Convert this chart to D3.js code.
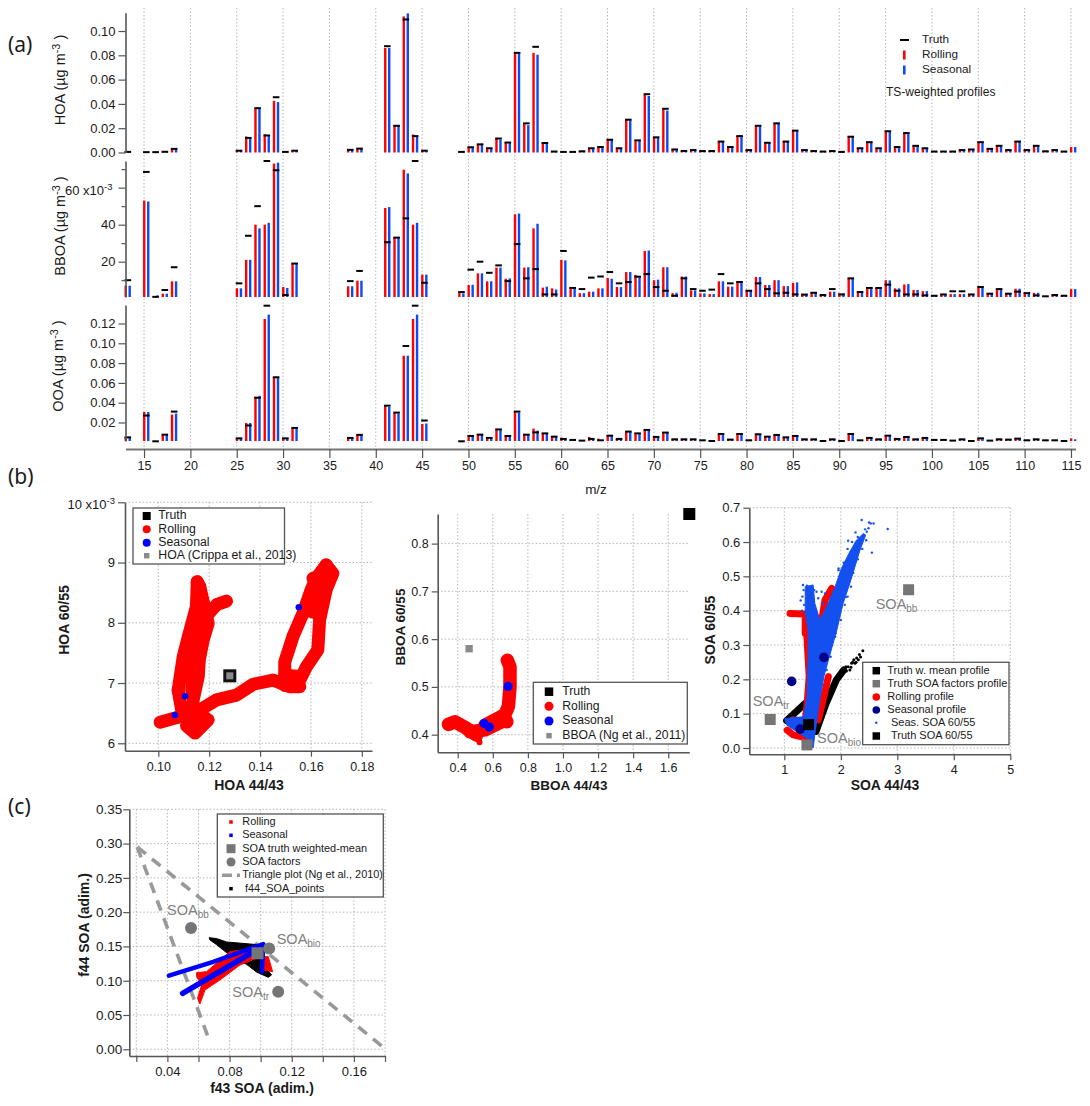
<!DOCTYPE html>
<html><head><meta charset="utf-8">
<script src="https://cdn.jsdelivr.net/npm/d3@7"></script>
<style>
html,body{margin:0;padding:0;background:#fff}
svg{display:block}
text{font-family:"Liberation Sans",Arial,sans-serif;fill:#1a1a1a}
</style></head><body><svg id="c" width="1090" height="1106"></svg>
<script>
// ---------- panel (a) data ----------
const mz=[13,15,16,17,18,25,26,27,28,29,30,31,37,38,41,42,43,44,45,49,50,51,52,53,54,55,56,57,58,59,60,61,62,63,64,65,66,67,68,69,70,71,72,73,74,75,76,77,78,79,80,81,82,83,84,85,86,87,88,89,90,91,92,93,94,95,96,97,98,99,100,101,102,103,104,105,106,107,108,109,110,111,112,113,114,115];
const hoaTruth=[.0005,.0003,.0003,.0006,.003,.0015,.012,.0365,.014,.0455,.0005,.0015,.0022,.0032,.0875,.022,.1095,.0135,.0015,.0005,.0043,.0067,.0035,.0115,.0082,.082,.024,.087,.0078,.0008,.0005,.0005,.001,.0035,.0045,.0105,.0035,.027,.010,.048,.0125,.036,.0025,.0013,.002,.0012,.0012,.009,.0045,.0135,.002,.022,.008,.024,.009,.018,.002,.0012,.0008,.0012,.0005,.013,.0035,.0085,.0035,.0175,.0045,.016,.0055,.0035,.0008,.0008,.0008,.002,.0025,.0085,.003,.0055,.002,.009,.002,.0055,.001,.002,.0008,null];
const hoaRolling=[.0005,.0003,.0003,.0006,.0035,.0015,.0132,.036,.015,.0425,.0005,.0015,.0025,.0032,.086,.0225,.112,.0148,.0015,.0005,.0045,.0065,.0038,.012,.0085,.082,.0235,.082,.0082,.0008,.0005,.0005,.001,.0035,.0045,.0105,.0035,.027,.0102,.0475,.0125,.0355,.0025,.0013,.002,.0012,.0012,.009,.0045,.0135,.002,.022,.008,.024,.009,.0178,.002,.0012,.0008,.0012,.0005,.013,.0035,.0085,.0035,.0175,.0045,.016,.0055,.0035,.0008,.0008,.0008,.002,.0025,.0085,.003,.0055,.002,.009,.002,.0055,.001,.002,.0008,.0045];
const hoaSeasonal=[.0003,.0003,.0003,.0005,.003,.0015,.0118,.0365,.0135,.0415,.0005,.0015,.0022,.0032,.086,.022,.1145,.013,.0015,.0005,.004,.0072,.0035,.0105,.0082,.0815,.0225,.0805,.0075,.0008,.0005,.0005,.001,.0032,.0042,.0105,.0032,.0265,.0098,.0465,.012,.0345,.0025,.0013,.002,.0012,.0012,.009,.0042,.013,.002,.0215,.0078,.0235,.009,.0175,.002,.0012,.0008,.0012,.0005,.0128,.0035,.0082,.0035,.017,.0045,.0158,.0055,.0033,.0008,.0008,.0008,.002,.0025,.0082,.003,.0052,.002,.0088,.002,.0055,.001,.002,.0008,.0045];

const bboaTruth=[10,68.5,1,4.7,17,8.3,34,50,74.4,69.4,2,19,9.5,15,30.5,33,43.4,74.4,8.6,3.6,15.7,20,14,18,9.5,29.5,11,16,2.3,2.3,25.8,5.8,5.2,11.4,12,14.4,8.3,9,11.9,13.3,6.3,4.3,1.6,11,5.2,4.3,4.9,13.3,8.3,9,4.3,8.3,5.2,2.9,3.2,2.3,2.2,3.2,2,5.2,2.3,11,3.6,5.8,5.8,7.6,4.3,2.3,2.3,1.8,1.6,2.3,4,4,2.3,6.3,2.7,5.2,2.7,3.8,3,1.8,1.3,2,1.6,null];
const bboaRolling=[7,53,1,2.7,9.4,5.6,21,40,40,73,6.3,19,6.7,9.7,49,33,69.7,40,13,3.4,7.4,13.7,9.4,16.8,10.8,45.6,16.8,38,6,5.6,21,6.3,3,3.8,5.6,11.2,6.3,14.4,12.8,25.8,10,17,3,12,4.5,2.9,2.5,9.4,6.5,9.5,4.7,11.7,7.4,10,6.8,8.5,2.7,3.6,2.3,3.8,2.9,10.8,3.2,6.3,5.9,10,5.6,7.7,4.7,4.1,1.8,2.5,2.5,2.5,2.5,6.1,3,5.4,2.9,5.4,3.4,3.2,1.4,2,1.6,5.2];
const bboaSeasonal=[7,52.5,1.8,2.7,9.4,5.6,21,38,41,73.5,5.8,19,6.7,9.7,49.5,33,67.7,41,13,2.9,7.5,13.7,9.4,16.8,11,46,17,40.5,6.5,5,20.7,6.1,3,3.8,5.6,10.8,6.3,14.4,12.3,26,10.3,17,3.2,12,4.5,2.9,2.5,9.4,6.5,9.5,4.7,11.7,7.4,10,6.8,8.8,2.7,3.6,2.3,3.8,2.9,10.8,3.2,6.3,5.9,9.9,5.6,7.9,4.7,4.1,1.8,2.5,2.5,2.5,2.5,6.1,3,5.4,2.9,5.4,3.4,3.2,1.4,2,1.6,5.2];

const ooaTruth=[.005,.027,.001,.0077,.031,.004,.017,.045,.138,.0657,.004,.0145,.0044,.0075,.037,.030,.0973,.138,.022,.001,.0064,.0077,.0044,.013,.0064,.031,.0077,.010,.009,.0057,.0034,.0024,.0017,.0034,.002,.0067,.0034,.0108,.009,.0125,.0054,.0098,.003,.003,.003,.002,.0013,.0084,.0027,.0084,.002,.0081,.0057,.0074,.005,.0064,.003,.003,.0013,.003,.0013,.0084,.002,.0044,.003,.0067,.0034,.0054,.003,.0044,.0024,.0024,.0017,.003,.0013,.004,.0017,.003,.0027,.0037,.002,.003,.002,.002,.0013,null];
const ooaRolling=[.005,.0306,.001,.0077,.028,.004,.0195,.046,.1246,.0657,.004,.0145,.0044,.0075,.0374,.030,.0875,.1246,.0185,.001,.007,.0084,.0044,.013,.0064,.0313,.0077,.0138,.009,.0057,.0047,.0024,.0017,.0054,.0037,.0067,.0034,.0108,.009,.0125,.0054,.0098,.003,.003,.003,.002,.0013,.0084,.0027,.0084,.002,.0081,.0057,.0074,.005,.0064,.003,.003,.0013,.003,.0013,.0084,.002,.0044,.003,.0067,.0034,.0054,.003,.0044,.0024,.0024,.0017,.003,.0013,.004,.0017,.003,.0027,.0037,.002,.003,.002,.002,.0013,.004];
const ooaSeasonal=[.005,.0306,.001,.0077,.029,.004,.0195,.047,.129,.0657,.004,.0145,.0044,.0075,.0357,.029,.0875,.129,.019,.001,.007,.0084,.0044,.013,.0064,.030,.0077,.0118,.009,.0057,.0034,.0024,.0017,.0034,.0024,.0067,.0034,.0108,.009,.0128,.0054,.0098,.003,.003,.003,.002,.0013,.0084,.0027,.0084,.002,.0081,.0057,.0074,.005,.0064,.003,.003,.0013,.003,.0013,.0084,.002,.0044,.003,.0067,.0034,.0054,.003,.0044,.0024,.0024,.0017,.003,.0013,.004,.0017,.003,.0027,.0037,.002,.003,.002,.002,.0013,.003];

const mzTicks=[15,20,25,30,35,40,45,50,55,60,65,70,75,80,85,90,95,100,105,110,115];

// ---------- panel (b) data ----------
const hoaTraces=[
 [[.1078,6.88],[.1098,7.44],[.1118,7.77],[.115,8.27],[.1153,8.68]],
 [[.1163,8.6],[.1196,7.99],[.1176,7.71],[.1161,7.38],[.1157,7.11],[.1137,6.72],[.1131,6.39]],
 [[.1131,6.88],[.1137,7.44],[.1163,7.99]],
 [[.1125,7.7],[.1175,7.9],[.1155,8.3]],
 [[.1153,8.68],[.1163,8.6]],
 [[.1007,6.35],[.1059,6.41],[.1118,6.48]],
 [[.1078,6.88],[.1092,6.55]],
 [[.1111,6.29],[.1144,6.17],[.1196,6.39],[.115,6.52]],
 [[.115,6.52],[.1229,6.72],[.1307,6.8],[.1373,6.98],[.1451,7.05],[.1516,6.94],[.1556,6.94]],
 [[.1497,7.13],[.1556,7.11]],
 [[.1497,6.96],[.1497,7.35],[.1529,7.77],[.1569,8.16],[.1601,8.55],[.1621,8.74],[.166,8.96]],
 [[.166,8.96],[.1686,8.82],[.166,8.55],[.1634,8.05],[.1627,7.55],[.1582,7.27],[.1549,6.99]],
 [[.1608,8.74],[.168,8.79],[.1627,8.32]],
 [[.1582,8.21],[.1627,8.16]],
 [[.1163,7.99],[.1229,8.3],[.1268,8.36]]
];
const hoaSeasonalX=[.1065,.1105,.1552], hoaSeasonalY=[6.47,6.78,8.26];
const hoaTruthPoint=[.1281,7.12];
const bboaTraces=[
 [[.347,.4216],[.385,.427],[.451,.413],[.508,.399]],
 [[.47,.406],[.556,.41],[.651,.427],[.689,.459],[.698,.5],[.698,.542],[.683,.556]],
 [[.556,.42],[.66,.44],[.68,.427]]
];
const bboaTip=[[.51,.405],[.524,.384]];
const bboaSeasonalX=[.55,.58,.687], bboaSeasonalY=[.4237,.416,.501];
const bboaTruthPoint=[1.72,.862], bboaRef=[.465,.58];
const soaBlueCloud=[[1.51,0],[1.45,.023],[1.04,.067],[1.01,.086],[1.34,.091],[1.40,.15],[1.42,.266],[1.42,.344],[1.37,.392],[1.37,.47],[1.51,.475],[1.54,.421],[1.63,.373],[1.75,.412],[1.90,.47],[2.01,.523],[2.16,.572],[2.28,.606],[2.40,.625],[2.44,.62],[2.34,.577],[2.25,.528],[2.16,.48],[2.04,.421],[1.93,.344],[1.78,.256],[1.70,.208],[1.62,.13],[1.55,.052]];
const soaBlueDots=[[2.37,.664],[2.50,.657],[2.58,.654],[2.53,.654],[2.83,.638],[2.26,.628],[2.55,.569],[2.46,.63],[2.41,.62],[2.35,.601],[2.13,.604],[2.31,.582],[2.22,.579],[2.28,.559],[1.96,.523],[2.07,.47],[2.12,.441],[1.91,.334],[1.96,.518],[2.49,.64],[2.43,.637],[2.39,.611],[2.16,.557],[2.10,.543],[2.01,.499],[1.40,.473],[1.45,.465],[1.57,.455],[1.66,.455],[1.72,.45],[1.34,.46],[1.32,.441],[1.60,.436],[1.69,.421],[1.35,.417],[2.07,.417],[2.00,.373],[1.90,.324],[1.82,.266],[1.75,.227],[2.01,.46],[2.05,.54],[2.12,.58],[2.2,.6],[2.30,.615],[2.45,.605],[2.38,.58],[2.30,.55],[2.22,.51],[2.18,.47],[2.09,.44],[1.98,.40],[1.31,.40],[1.29,.43],[1.33,.475],[1.48,.44],[1.53,.46]];
const soaRedTraces=[
 [[1.10,.392],[1.37,.39],[1.37,.334]],
 [[1.40,.324],[1.44,.208],[1.40,.12],[1.37,.082]],
 [[1.84,.465],[1.72,.431],[1.66,.368]],
 [[1.78,.208],[1.70,.15],[1.60,.082]],
 [[1.05,.052],[1.16,.038],[1.42,.028]],
 [[1.16,.082],[1.34,.077]]
];
const soaBlackTraces=[
 [[1.56,.048],[1.74,.13],[1.92,.198],[2.05,.227]],
 [[1.04,.08],[1.37,.13]],
 [[1.10,.082],[1.45,.077]]
];
const soaBlackDots=[[2.13,.237],[2.19,.247],[2.23,.257],[2.28,.262],[2.33,.272],[2.39,.283],[2.25,.247],[2.16,.227],[2.09,.237],[2.31,.257],[2.04,.222],[2.10,.224],[2.18,.235],[2.21,.25],[2.27,.25],[2.35,.265]];
const soaSeasonalProfile=[[1.13,.194],[1.70,.264],[1.28,.055]];
const soaTruthMean=[1.43,.068];
const soaFactors=[[3.20,.461],[.75,.083],[1.40,.009]];

// ---------- panel (c) data ----------
const triangleA=[[.0206,.295],[.0675,.01]];
const triangleB=[[.0206,.295],[.18,.001]];
const cFactors=[[.0552,.177],[.1055,.147],[.1113,.084]];
const cTruthMean=[.098,.14];
const cBlack=[[.0669,.1628],[.0717,.1614],[.0781,.1565],[.0974,.1527],[.1017,.1351],[.0995,.1302],[.107,.1084],[.1049,.105],[.0974,.1126],[.091,.1238],[.0802,.137],[.0717,.1525],[.0674,.1594]];
const cRedA=[[.0588,.1118],[.0652,.1132],[.0802,.1424],[.0952,.1472],[.0974,.1327],[.0867,.1229],[.0738,.1011],[.0642,.0865],[.0609,.0661],[.0594,.0743],[.062,.0938],[.0588,.1059]];
const cRedB=[[.1006,.1351],[.1049,.1351],[.1077,.1132],[.1017,.1156]];
const cBlueLines=[[[.041,.1074],[.0695,.1275],[.1017,.1535]],[[.0498,.0816],[.0717,.1108],[.0974,.1448]],[[.1008,.1132],[.1017,.1497]]];

// ---------- helpers ----------
const svg=d3.select('#c');
const AXC='#555';
const RED='#ff0000',BLUE='#0b4bf5',PURE='#0000ff',NAVY='#00008b',GREY='#757575';
function styleAxis(g,fs,w){
  g.selectAll('path.domain').attr('stroke',AXC).attr('stroke-width',w||1.6);
  g.selectAll('.tick line').attr('stroke',AXC).attr('stroke-width',1.2);
  g.selectAll('.tick text').attr('fill','#1a1a1a').style('font-size',fs+'px').style('font-family','"Liberation Sans",Arial,sans-serif');
}
function vgrid(g,x,vals,y0,y1){g.selectAll(null).data(vals).join('line').attr('x1',x).attr('x2',x).attr('y1',y0).attr('y2',y1).attr('stroke','#b5b5b5').attr('stroke-width',1).attr('stroke-dasharray','1.5,2');}
function hgrid(g,y,vals,x0,x1){g.selectAll(null).data(vals).join('line').attr('y1',y).attr('y2',y).attr('x1',x0).attr('x2',x1).attr('stroke','#b5b5b5').attr('stroke-width',1).attr('stroke-dasharray','1.5,2');}
function supLabel(g,x,y,base,sup,tail,opt){
  const t=g.append('text').attr('transform',`translate(${x},${y}) rotate(-90)`).attr('text-anchor','middle').style('font-size',opt+'px');
  t.append('tspan').text(base);
  t.append('tspan').attr('dy',-5).style('font-size',(opt*.75)+'px').text(sup);
  t.append('tspan').attr('dy',5).text(tail);
}
function subLabel(g,x,y,base,sub){
  const t=g.append('text').attr('x',x).attr('y',y).attr('dominant-baseline','middle').style('font-size','14.5px').style('fill','#808080');
  t.append('tspan').text(base);
  t.append('tspan').attr('dy',4).style('font-size','10px').style('fill','#808080').text(sub);
}
function bold(g,x,y,txt,rot,fs){
  g.append('text').attr('transform',`translate(${x},${y})`+(rot?' rotate(-90)':'')).attr('text-anchor','middle').attr('dominant-baseline','middle')
   .style('font-weight','bold').style('font-size',(fs||14)+'px').text(txt);
}
function xSquare(g,px,py,k){
  g.append('rect').attr('x',px-3.2*k).attr('y',py-3.2*k).attr('width',6.4*k).attr('height',6.4*k).attr('fill','#8a8a8a');
  g.append('path').attr('d',d3.symbol(d3.symbolX,46*k*k)()).attr('transform',`translate(${px},${py})`).attr('fill','#666');
}
function legend(g,x0,y0,x1,y1,items,fs){
  g.append('rect').attr('x',x0).attr('y',y0).attr('width',x1-x0).attr('height',y1-y0).attr('fill','#fff').attr('stroke','#555').attr('stroke-width',1.3);
  items.forEach(it=>{
    const mx=it.mx,my=it.y;
    if(it.k==='sq') g.append('rect').attr('x',mx-it.s/2).attr('y',my-it.s/2).attr('width',it.s).attr('height',it.s).attr('fill',it.c);
    if(it.k==='c') g.append('circle').attr('cx',mx).attr('cy',my).attr('r',it.s).attr('fill',it.c);
    if(it.k==='x') xSquare(g,mx,my,.85);
    if(it.k==='dash') g.append('line').attr('x1',mx-9).attr('x2',mx+9).attr('y1',my).attr('y2',my).attr('stroke','#999').attr('stroke-width',3.5).attr('stroke-dasharray','10,5');
    g.append('text').attr('x',it.tx).attr('y',my).attr('dominant-baseline','middle').style('font-size',fs+'px').text(it.t);
  });
}
const lineGen=(x,y)=>d3.line().x(d=>x(d[0])).y(d=>y(d[1]));

// ---------- panel (a) ----------
const xA=d3.scaleLinear().domain([13,115.5]).range([125.5,1075.6]);
const A=svg.append('g');
vgrid(A,d=>xA(d),mzTicks,8,449);
function barPanel(yDom,yRange,truth,roll,seas,ticks,fmt){
  const y=d3.scaleLinear().domain(yDom).range(yRange);
  const g=A.append('g');
  const base=yRange[0];
  const h=v=>Math.max(0,base-y(v));
  g.selectAll(null).data(mz).join('rect').attr('x',d=>xA(d)-1).attr('width',2.4).attr('y',(d,i)=>y(roll[i])).attr('height',(d,i)=>h(roll[i])).attr('fill',RED);
  g.selectAll(null).data(mz).join('rect').attr('x',d=>xA(d)+3).attr('width',2.4).attr('y',(d,i)=>y(seas[i])).attr('height',(d,i)=>h(seas[i])).attr('fill',BLUE);
  g.selectAll(null).data(mz.filter((d,i)=>truth[i]!=null)).join('line').attr('x1',d=>xA(d)-1).attr('x2',d=>xA(d)+5.6)
   .attr('y1',d=>y(truth[mz.indexOf(d)])).attr('y2',d=>y(truth[mz.indexOf(d)])).attr('stroke','#000').attr('stroke-width',2);
  const ax=A.append('g').attr('transform','translate(125.5,0)').call(d3.axisLeft(y).tickValues(ticks).tickFormat(fmt).tickSize(7).tickSizeOuter(0).tickPadding(3));
  styleAxis(ax,13);
  return ax;
}
barPanel([0,.115],[152.5,12.8],hoaTruth,hoaRolling,hoaSeasonal,[0,.02,.04,.06,.08,.10],d3.format('.2f'));
const bbAx=barPanel([.92,74.4],[297,161],bboaTruth,bboaRolling,bboaSeasonal,[10,20,30,40,50,60,70],d=>(d===20||d===40)?d:'');
bbAx.selectAll('.tick').filter(d=>d%20!==0).select('line').attr('x2',-4);
bbAx.selectAll('.tick text').filter(d=>d===60).attr('dy','0.55em').attr('x',-13).each(function(){
  const t=d3.select(this);t.text('60 x10');
  t.append('tspan').attr('dy',-5).style('font-size','9.5px').text('-3');
});
barPanel([.0013,.1387],[441,305],ooaTruth,ooaRolling,ooaSeasonal,[.02,.04,.06,.08,.10,.12],d3.format('.2f'));
const axX=A.append('g').attr('transform','translate(0,449)').call(d3.axisBottom(xA).tickValues(mzTicks).tickSize(9).tickSizeOuter(0).tickPadding(3));
styleAxis(axX,12.5,2);
axX.selectAll('path.domain').attr('stroke','#777');
A.append('text').attr('x',596).attr('y',490).attr('text-anchor','middle').attr('dominant-baseline','middle').style('font-size','13.5px').text('m/z');
supLabel(A,65,80,'HOA (µg m','-3',' )',14.5);
supLabel(A,65,226,'BBOA (µg m','-3',' )',14.5);
supLabel(A,63,366,'OOA (µg m','-3',' )',14.5);
// legend (a)
A.append('line').attr('x1',900).attr('x2',909).attr('y1',40).attr('y2',40).attr('stroke','#000').attr('stroke-width',2);
A.append('rect').attr('x',903).attr('y',50.5).attr('width',2.6).attr('height',9).attr('fill',RED);
A.append('rect').attr('x',903).attr('y',65.5).attr('width',2.6).attr('height',9).attr('fill',BLUE);
[['Truth',40],['Rolling',55],['Seasonal',70]].forEach(d=>A.append('text').attr('x',922).attr('y',d[1]).attr('dominant-baseline','middle').style('font-size','11.8px').text(d[0]));
A.append('text').attr('x',886).attr('y',93).attr('dominant-baseline','middle').style('font-size','12px').text('TS-weighted profiles');

[['(a)',8,46],['(b)',8,478],['(c)',8,808]].forEach(d=>svg.append('text').attr('x',d[1]).attr('y',d[2]).attr('dominant-baseline','middle').style('font-family','"Noto Sans",sans-serif').style('font-size','21px').text(d[0]));

// ---------- panel (b1) ----------
(function(){
  const x=d3.scaleLinear().domain([.0869,.184]).range([125,372]);
  const y=d3.scaleLinear().domain([5.877,10]).range([750.7,502.3]);
  const g=svg.append('g');
  const xt=[.10,.12,.14,.16,.18], yt=[6,7,8,9,10];
  vgrid(g,d=>x(d),xt,502,750.7); hgrid(g,d=>y(d),yt,125,372);
  hoaTraces.forEach(t=>g.append('path').attr('d',lineGen(x,y)(t)).attr('fill','none').attr('stroke',RED).attr('stroke-width',13).attr('stroke-linecap','round').attr('stroke-linejoin','round'));
  g.selectAll(null).data(hoaSeasonalX).join('circle').attr('cx',d=>x(d)).attr('cy',(d,i)=>y(hoaSeasonalY[i])).attr('r',3.2).attr('fill',PURE);
  const tp=[x(hoaTruthPoint[0]),y(hoaTruthPoint[1])];
  g.append('rect').attr('x',tp[0]-6.5).attr('y',tp[1]-6.5).attr('width',13).attr('height',13).attr('fill','#111');
  xSquare(g,tp[0],tp[1],1.1);
  const ay=g.append('g').attr('transform','translate(125,0)').call(d3.axisLeft(y).tickValues(yt).tickFormat(d=>d).tickSize(7).tickSizeOuter(0).tickPadding(3));
  styleAxis(ay,13);
  ay.selectAll('.tick text').filter(d=>d===10).attr('dy','0.45em').each(function(){const t=d3.select(this);t.text('10 x10');t.append('tspan').attr('dy',-5).style('font-size','9.5px').text('-3');});
  const ax=g.append('g').attr('transform','translate(0,750.7)').call(d3.axisBottom(x).tickValues(xt).tickFormat(d3.format('.2f')).tickSize(6).tickSizeOuter(0).tickPadding(5));
  styleAxis(ax,12.5);
  bold(g,249,786,'HOA 44/43');bold(g,65,620,'HOA 60/55',true);
  legend(g,133,508,284.5,564,[
   {k:'sq',c:'#000',s:8,mx:146.7,y:516,tx:158.3,t:'Truth'},
   {k:'c',c:RED,s:4,mx:146.7,y:529.3,tx:158.3,t:'Rolling'},
   {k:'c',c:PURE,s:4,mx:146.7,y:542.7,tx:158.3,t:'Seasonal'},
   {k:'x',mx:146.7,y:555.7,tx:158.3,t:'HOA (Crippa et al., 2013)'}],12.3);
})();

// ---------- panel (b2) ----------
(function(){
  const x=d3.scaleLinear().domain([.286,1.72]).range([437.7,689.3]);
  const y=d3.scaleLinear().domain([.3631,.862]).range([752.3,514]);
  const g=svg.append('g');
  const xt=[.4,.6,.8,1,1.2,1.4,1.6], yt=[.4,.5,.6,.7,.8];
  vgrid(g,d=>x(d),xt,514,752.3); hgrid(g,d=>y(d),yt,437.7,689.3);
  bboaTraces.forEach(t=>g.append('path').attr('d',lineGen(x,y)(t)).attr('fill','none').attr('stroke',RED).attr('stroke-width',13.5).attr('stroke-linecap','round').attr('stroke-linejoin','round'));
  g.append('path').attr('d',lineGen(x,y)(bboaTip)).attr('fill','none').attr('stroke',RED).attr('stroke-width',6).attr('stroke-linecap','round');
  xSquare(g,x(bboaRef[0]),y(bboaRef[1]),1.15);
  g.selectAll(null).data(bboaSeasonalX).join('circle').attr('cx',d=>x(d)).attr('cy',(d,i)=>y(bboaSeasonalY[i])).attr('r',4.6).attr('fill',PURE);
  g.append('rect').attr('x',x(bboaTruthPoint[0])-6).attr('y',y(bboaTruthPoint[1])-6).attr('width',12).attr('height',12).attr('fill','#000');
  const ay=g.append('g').attr('transform','translate(437.7,0)').call(d3.axisLeft(y).tickValues(yt).tickFormat(d3.format('.1f')).tickSize(6).tickSizeOuter(0).tickPadding(3));
  styleAxis(ay,12.5);
  const ax=g.append('g').attr('transform','translate(0,752.3)').call(d3.axisBottom(x).tickValues(xt).tickFormat(d3.format('.1f')).tickSize(6).tickSizeOuter(0).tickPadding(5));
  styleAxis(ax,12.5);
  bold(g,569,786,'BBOA 44/43',false,13.5);bold(g,401,627,'BBOA 60/55',true,13.5);
  legend(g,533.3,682.3,687.3,744,[
   {k:'sq',c:'#000',s:8.5,mx:549,y:691.7,tx:562.3,t:'Truth'},
   {k:'c',c:RED,s:4.5,mx:549,y:706.3,tx:562.3,t:'Rolling'},
   {k:'c',c:PURE,s:4.5,mx:549,y:721,tx:562.3,t:'Seasonal'},
   {k:'x',mx:549,y:735.7,tx:562.3,t:'BBOA (Ng et al., 2011)'}],12.2);
})();

// ---------- panel (b3) ----------
(function(){
  const x=d3.scaleLinear().domain([.38,5]).range([749.3,1010.3]);
  const y=d3.scaleLinear().domain([-.0184,.7]).range([754.3,507.7]);
  const g=svg.append('g');
  const xt=[1,2,3,4,5], yt=[0,.1,.2,.3,.4,.5,.6,.7];
  vgrid(g,d=>x(d),xt,507.7,754.3); hgrid(g,d=>y(d),yt,749.3,1010.3);
  const L=lineGen(x,y);
  soaBlackTraces.forEach(t=>g.append('path').attr('d',L(t)).attr('fill','none').attr('stroke','#000').attr('stroke-width',7).attr('stroke-linecap','round').attr('stroke-linejoin','round'));
  g.selectAll(null).data(soaBlackDots).join('circle').attr('cx',d=>x(d[0])).attr('cy',d=>y(d[1])).attr('r',1.5).attr('fill','#000');
  soaRedTraces.forEach(t=>g.append('path').attr('d',L(t)).attr('fill','none').attr('stroke',RED).attr('stroke-width',7).attr('stroke-linecap','round').attr('stroke-linejoin','round'));
  g.append('path').attr('d',L(soaBlueCloud)+'Z').attr('fill','#1450f0').attr('stroke','#1450f0').attr('stroke-width',1);
  g.selectAll(null).data(soaBlueDots).join('circle').attr('cx',d=>x(d[0])).attr('cy',d=>y(d[1])).attr('r',1.2).attr('fill','#1450f0');
  g.selectAll(null).data(soaSeasonalProfile).join('circle').attr('cx',d=>x(d[0])).attr('cy',d=>y(d[1])).attr('r',4.8).attr('fill',NAVY);
  g.selectAll(null).data(soaFactors).join('rect').attr('x',d=>x(d[0])-5.5).attr('y',d=>y(d[1])-5.5).attr('width',11).attr('height',11).attr('fill',GREY);
  g.append('rect').attr('x',x(soaTruthMean[0])-5.5).attr('y',y(soaTruthMean[1])-5.5).attr('width',11).attr('height',11).attr('fill','#000');
  const ay=g.append('g').attr('transform','translate(749.3,0)').call(d3.axisLeft(y).tickValues(yt).tickFormat(d3.format('.1f')).tickSize(6).tickSizeOuter(0).tickPadding(3));
  styleAxis(ay,13);
  const ax=g.append('g').attr('transform','translate(0,754.3)').call(d3.axisBottom(x).tickValues(xt).tickFormat(d=>d).tickSize(6).tickSizeOuter(0).tickPadding(5));
  styleAxis(ax,12.5);
  bold(g,885,786,'SOA 44/43');bold(g,711,630,'SOA 60/55',true);
  legend(g,862.7,662.3,1009,744.7,[
   {k:'sq',c:'#000',s:7.5,mx:876.3,y:670.7,tx:887.3,t:'Truth w. mean profile'},
   {k:'sq',c:GREY,s:7.5,mx:876.3,y:683.7,tx:887.3,t:'Truth SOA factors profile'},
   {k:'c',c:RED,s:3.8,mx:876.3,y:697,tx:887.3,t:'Rolling profile'},
   {k:'c',c:NAVY,s:3.8,mx:876.3,y:710,tx:887.3,t:'Seasonal profile'},
   {k:'c',c:'#1450f0',s:1.2,mx:876.3,y:722.7,tx:891,t:'Seas. SOA 60/55'},
   {k:'sq',c:'#000',s:7.5,mx:876.3,y:736,tx:891,t:'Truth SOA 60/55'}],11);
  subLabel(g,875.7,605,'SOA','bb');subLabel(g,752.7,702,'SOA','tr');subLabel(g,817,739,'SOA','bio');
})();

// ---------- panel (c) ----------
(function(){
  const x=d3.scaleLinear().domain([.0155,.18]).range([129.3,385]);
  const y=d3.scaleLinear().domain([-.0098,.35]).range([1056,809.3]);
  const g=svg.append('g');
  const xt=[.02,.04,.06,.08,.10,.12,.14,.16,.18], yt=[0,.05,.10,.15,.20,.25,.30,.35];
  vgrid(g,d=>x(d),xt,809.3,1056); hgrid(g,d=>y(d),yt,129.3,385);
  const L=lineGen(x,y);
  [triangleA,triangleB].forEach(t=>g.append('path').attr('d',L(t)).attr('fill','none').attr('stroke','#999').attr('stroke-width',3.6).attr('stroke-dasharray','11,8'));
  g.append('path').attr('d',L(cBlack)+'Z').attr('fill','#000').attr('stroke','#000');
  g.append('path').attr('d',L(cRedA)+'Z').attr('fill',RED).attr('stroke',RED);
  g.append('path').attr('d',L(cRedB)+'Z').attr('fill',RED).attr('stroke',RED);
  g.selectAll(null).data(cBlueLines).join('path').attr('d',L).attr('fill','none').attr('stroke',PURE).attr('stroke-linecap','round').attr('stroke-width',(d,i)=>i===1?5.5:4.5);
  g.selectAll(null).data(cFactors).join('circle').attr('cx',d=>x(d[0])).attr('cy',d=>y(d[1])).attr('r',6).attr('fill',GREY);
  g.append('rect').attr('x',x(cTruthMean[0])-6).attr('y',y(cTruthMean[1])-6).attr('width',12).attr('height',12).attr('fill',GREY);
  subLabel(g,167,910.7,'SOA','bb');subLabel(g,276.7,940,'SOA','bio');subLabel(g,232.3,993.3,'SOA','tr');
  const ay=g.append('g').attr('transform','translate(129.3,0)').call(d3.axisLeft(y).tickValues(yt).tickFormat(d3.format('.2f')).tickSize(6).tickSizeOuter(0).tickPadding(1));
  styleAxis(ay,13.5);
  const ax=g.append('g').attr('transform','translate(0,1056)').call(d3.axisBottom(x).tickValues(xt).tickFormat(d=>[.04,.08,.12,.16].includes(d)?d3.format('.2f')(d):'').tickSize(6).tickSizeOuter(0).tickPadding(5));
  styleAxis(ax,13);
  bold(g,262,1089,'f43 SOA (adim.)');bold(g,85.7,925,'f44 SOA (adim.)',true);
  legend(g,217.3,814,383.3,897,[
   {k:'sq',c:RED,s:3.5,mx:231,y:822,tx:242.3,t:'Rolling'},
   {k:'sq',c:PURE,s:3.5,mx:231,y:835.3,tx:242.3,t:'Seasonal'},
   {k:'sq',c:GREY,s:9,mx:231,y:848.7,tx:242.3,t:'SOA truth weighted-mean'},
   {k:'c',c:GREY,s:4.5,mx:231,y:862,tx:242.3,t:'SOA factors'},
   {k:'dash',mx:231,y:875.3,tx:242.3,t:'Triangle plot (Ng et al., 2010)'},
   {k:'sq',c:'#000',s:3.5,mx:231,y:888.7,tx:245,t:'f44_SOA_points'}],10.9);
})();
</script></body></html>
